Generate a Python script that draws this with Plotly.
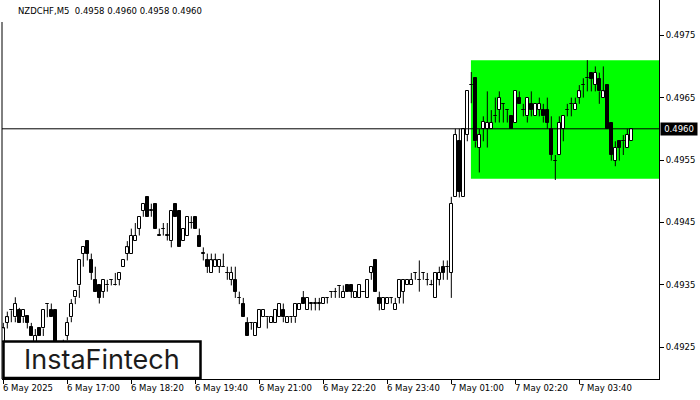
import plotly.graph_objects as go

# ---- data (prices in points, 1 point = 0.00001) ----
open_pts = [49258,49289,49309,49298,49310,49298,49300,49282,49258,49280,
            49280,49319,49310,49310,49255,49245,49268,49298,49330,49349,
            49400,49420,49389,49358,49349,49339,49349,49358,49349,49358,
            49379,49400,49400,49420,49440,49469,49490,49469,49480,49429,
            49440,49429,49420,49480,49469,49420,49429,49449,49459,49429,
            49400,49389,49369,49379,49379,49379,49369,49358,49358,49329,
            49320,49289,49289,49268,49280,49298,49298,49289,49289,49298,
            49310,49289,49298,49298,49309,49329,49310,49320,49320,49320,
            49320,49329,49339,49339,49348,49329,49349,49349,49329,49329,
            49339,49329,49369,49389,49329,49309,49320,49329,49309,49329,
            49339,49349,49349,49369,49358,49369,49358,49349,49329,49358,
            49379,49379,49369,49490,49580,49490,49590,49670,49681,49570,
            49600,49600,49600,49620,49630,49640,49630,49620,49610,49650,
            49630,49620,49640,49620,49630,49630,49630,49600,49549,49558,
            49600,49630,49640,49630,49650,49670,49681,49690,49670,49680,
            49650,49670,49610,49549,49580,49580,49570,49580]
high_pts = [49289,49307,49310,49330,49313,49310,49300,49289,49279,49282,
            49310,49320,49320,49310,49258,49262,49298,49327,49340,49389,
            49410,49420,49400,49379,49349,49358,49358,49358,49369,49369,
            49389,49420,49440,49449,49459,49480,49490,49480,49480,49440,
            49449,49449,49469,49480,49469,49440,49459,49460,49459,49440,
            49410,49400,49400,49400,49389,49400,49379,49379,49379,49339,
            49329,49298,49289,49289,49310,49310,49298,49298,49310,49320,
            49320,49298,49298,49320,49320,49340,49329,49320,49329,49329,
            49329,49329,49339,49345,49348,49349,49349,49349,49339,49349,
            49339,49358,49379,49389,49339,49329,49329,49329,49329,49358,
            49358,49358,49369,49369,49389,49369,49369,49358,49369,49379,
            49389,49389,49491,49600,49600,49600,49660,49691,49681,49600,
            49620,49660,49630,49650,49660,49640,49630,49620,49660,49660,
            49640,49650,49660,49640,49650,49640,49650,49620,49558,49620,
            49620,49640,49650,49650,49670,49681,49710,49690,49700,49690,
            49700,49670,49610,49580,49580,49590,49600,49600]
low_pts = [49250,49280,49290,49290,49289,49289,49280,49268,49250,49268,
           49268,49298,49298,49250,49237,49240,49261,49290,49319,49329,
           49379,49389,49358,49339,49320,49329,49339,49349,49349,49349,
           49379,49389,49400,49420,49429,49459,49459,49459,49440,49429,
           49429,49421,49410,49459,49410,49420,49429,49440,49440,49410,
           49389,49369,49369,49379,49369,49379,49358,49349,49329,49319,
           49298,49268,49278,49268,49280,49298,49280,49289,49289,49298,
           49290,49289,49289,49289,49309,49320,49310,49309,49309,49309,
           49320,49320,49329,49329,49329,49329,49339,49329,49329,49329,
           49339,49329,49358,49339,49309,49309,49320,49320,49309,49320,
           49320,49349,49349,49358,49339,49358,49349,49349,49329,49349,
           49358,49358,49329,49490,49490,49490,49580,49641,49570,49530,
           49580,49570,49600,49610,49610,49610,49610,49600,49610,49640,
           49620,49610,49620,49620,49620,49610,49600,49549,49518,49558,
           49580,49620,49620,49630,49640,49650,49660,49660,49660,49640,
           49650,49600,49549,49540,49549,49558,49570,49580]
close_pts = [49280,49298,49310,49320,49289,49310,49289,49268,49268,49268,
             49310,49320,49298,49255,49245,49258,49289,49320,49340,49389,
             49410,49400,49369,49339,49329,49358,49349,49358,49349,49369,
             49389,49410,49429,49429,49459,49480,49459,49469,49440,49429,
             49440,49429,49469,49459,49410,49440,49459,49449,49440,49410,
             49400,49379,49389,49389,49389,49379,49369,49369,49339,49329,
             49298,49268,49289,49289,49310,49310,49298,49298,49310,49320,
             49298,49298,49298,49320,49320,49320,49329,49320,49320,49320,
             49329,49329,49339,49339,49348,49339,49339,49339,49339,49349,
             49339,49358,49379,49339,49320,49329,49329,49329,49320,49358,
             49358,49358,49358,49369,49358,49369,49358,49349,49369,49369,
             49369,49379,49480,49590,49499,49600,49660,49670,49580,49590,
             49611,49610,49610,49620,49650,49640,49630,49600,49660,49640,
             49630,49650,49630,49640,49640,49620,49610,49558,49549,49610,
             49620,49630,49640,49640,49660,49670,49681,49680,49690,49660,
             49660,49600,49558,49570,49570,49580,49590,49600]

tick_index = [0, 16, 32, 48, 64, 80, 96, 112, 128, 144]
tick_text = ["6 May 2025", "6 May 17:00", "6 May 18:20", "6 May 19:40",
             "6 May 21:00", "6 May 22:20", "6 May 23:40", "7 May 01:00",
             "7 May 02:20", "7 May 03:40"]
price_ticks = [0.4925, 0.4935, 0.4945, 0.4955, 0.4965, 0.4975]
last_price = 0.4960
rect_start_index = 116.9
rect_low = 0.4952
rect_high = 0.4971
title_text = "NZDCHF,M5\u00a0\u00a00.4958 0.4960 0.4958 0.4960"
logo_text = "InstaFintech"

# ---- derived ----
o = [v / 1e5 for v in open_pts]
h = [v / 1e5 for v in high_pts]
l = [v / 1e5 for v in low_pts]
c = [v / 1e5 for v in close_pts]
idx = list(range(len(o)))

body_base = [min(a, b) for a, b in zip(o, c)]
body_h = [max(abs(b - a), 2e-6) for a, b in zip(o, c)]
body_col = ["#000000" if b < a else "#ffffff" for a, b in zip(o, c)]

wx, wy = [], []
for i in idx:
    top = max(o[i], c[i])
    bot = min(o[i], c[i])
    if h[i] > top:
        wx += [i, i, None]
        wy += [top, h[i], None]
    if l[i] < bot:
        wx += [i, i, None]
        wy += [l[i], bot, None]

W, H = 700, 400
L_PX, R_PX, T_PX, B_PX = 2, 659, 0, 379
pw = R_PX - L_PX
ph = B_PX - T_PX
x0 = -0.33
x1 = x0 + pw / 4.0
y_hi = last_price + (128.8 - T_PX) / 62400
y_lo = last_price - (B_PX - 128.8) / 62400

FONT = "DejaVu Sans, Verdana, sans-serif"
FS = 8.5

fig = go.Figure()
fig.add_trace(go.Scatter(x=wx, y=wy, mode="lines",
                         line=dict(color="black", width=1),
                         hoverinfo="skip", showlegend=False))
fig.add_trace(go.Bar(x=idx, y=body_h, base=body_base, width=0.62,
                     marker=dict(color=body_col, line=dict(color="black", width=1)),
                     showlegend=False, hoverinfo="skip"))

shapes = [
    dict(type="rect", xref="x", yref="y", x0=rect_start_index, x1=x1,
         y0=rect_low, y1=rect_high, fillcolor="#00ff00", line=dict(width=0),
         layer="below"),
    dict(type="line", xref="paper", yref="y", x0=0, x1=1,
         y0=last_price, y1=last_price, line=dict(color="black", width=1),
         layer="above"),
    dict(type="line", xref="paper", yref="paper", x0=0, x1=0,
         y0=0, y1=(B_PX - 22) / ph, line=dict(color="black", width=1)),
    dict(type="rect", xref="paper", yref="paper",
         x0=(3.5 - L_PX) / pw, x1=(200.5 - L_PX) / pw,
         y0=(B_PX - 378) / ph, y1=(B_PX - 341.5) / ph,
         fillcolor="white", line=dict(color="black", width=2.5), layer="above"),
]

annotations = []
for ti, tt in zip(tick_index, tick_text):
    annotations.append(dict(x=ti, xref="x", y=(B_PX - 388) / ph, yref="paper",
                            text=tt, showarrow=False, xanchor="left",
                            yanchor="middle", xshift=-2,
                            font=dict(family=FONT, size=FS, color="black")))
annotations.append(dict(x=(16 - L_PX) / pw, xref="paper", y=(B_PX - 11) / ph,
                        yref="paper", text=title_text, showarrow=False,
                        xanchor="left", yanchor="middle",
                        font=dict(family=FONT, size=FS, color="black")))
annotations.append(dict(x=1, xref="paper", y=last_price, yref="y",
                        text="0.4960", showarrow=False, xanchor="left",
                        yanchor="middle", xshift=1, bgcolor="black",
                        borderpad=1, width=34, align="center",
                        font=dict(family=FONT, size=FS, color="white")))
annotations.append(dict(x=(102 - L_PX) / pw, xref="paper", y=(B_PX - 359) / ph,
                        yref="paper", text=logo_text, showarrow=False,
                        xanchor="center", yanchor="middle",
                        font=dict(family="Inter, Lato, sans-serif", size=27,
                                  color="#1c1c1c", weight=400)))

fig.update_layout(
    width=W, height=H,
    margin=dict(l=L_PX, r=W - R_PX, t=T_PX, b=H - B_PX, autoexpand=False),
    paper_bgcolor="white", plot_bgcolor="white",
    shapes=shapes, annotations=annotations, bargap=0,
    xaxis=dict(range=[x0, x1], showgrid=False, zeroline=False,
               showline=True, linecolor="black", linewidth=1,
               ticks="outside", ticklen=4, tickcolor="black",
               tickvals=tick_index, showticklabels=False, fixedrange=True),
    yaxis=dict(range=[y_lo, y_hi], side="right", showgrid=False,
               zeroline=False, showline=True, linecolor="black", linewidth=1,
               ticks="outside", ticklen=4, tickcolor="black",
               tickvals=price_ticks,
               ticktext=["%.4f" % v for v in price_ticks],
               tickfont=dict(family=FONT, size=FS, color="black"),
               fixedrange=True),
)

fig.write_html("out.html", config={"displayModeBar": False},
               post_script="document.body.style.margin='0';"
                           "document.body.style.overflow='hidden';")
